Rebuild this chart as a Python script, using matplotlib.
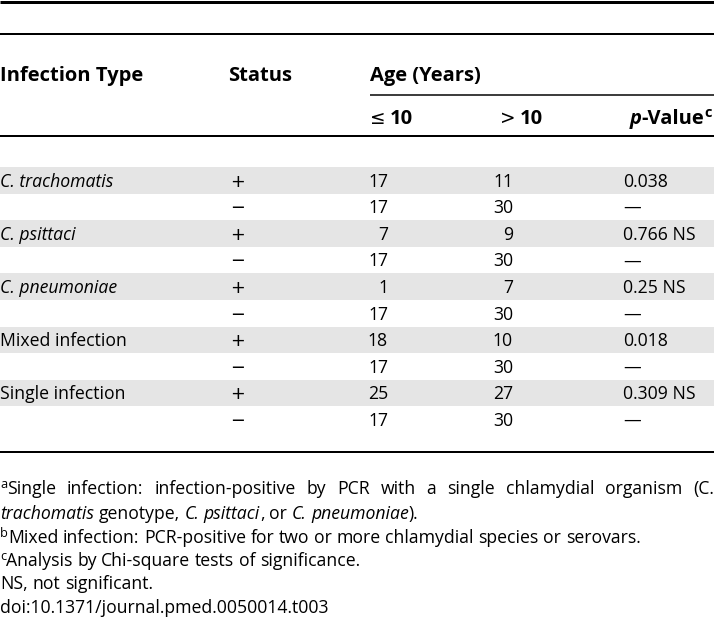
import re
import matplotlib
matplotlib.use("Agg")
import matplotlib.pyplot as plt
from matplotlib import font_manager

# ---------------- data ----------------
infection_types = ["C. trachomatis", "C. psittaci", "C. pneumoniae",
                   "Mixed infection", "Single infection"]
italic_type = [True, True, True, False, False]
pos_le10 = [17, 7, 1, 18, 25]
pos_gt10 = [11, 9, 7, 10, 27]
neg_le10 = [17, 17, 17, 17, 17]
neg_gt10 = [30, 30, 30, 30, 30]
p_values = ["0.038", "0.766 NS", "0.25 NS", "0.018", "0.309 NS"]
neg_p = "\u2014"
status_labels = ["+", "\u2212"]

header1 = ["Infection Type", "Status", "Age (Years)"]

footnotes = [
    [("a", "sup"), ("Single infection: infection-positive by PCR with a single chlamydial organism (C.", "n")],
    [("trachomatis", "i"), (" genotype, ", "n"), ("C. psittaci", "i"), (", or ", "n"),
     ("C. pneumoniae", "i"), (").", "n")],
    [("b", "sup"), ("Mixed infection: PCR-positive for two or more chlamydial species or serovars.", "n")],
    [("c", "sup"), ("Analysis by Chi-square tests of significance.", "n")],
    [("NS, not significant.", "n")],
    [("doi:10.1371/journal.pmed.0050014.t003", "n")],
]

# ---------------- font ----------------
names = {f.name for f in font_manager.fontManager.ttflist}
FAM = "DejaVu Sans"
for cand in ["Open Sans", "Noto Sans", "Lato", "DejaVu Sans"]:
    if cand in names:
        FAM = cand
        break
FAMS = [FAM, "DejaVu Sans"]
MATH = ["DejaVu Sans"]

W, H = 714, 624
fig = plt.figure(figsize=(W / 100, H / 100), dpi=100)
ax = fig.add_axes([0, 0, 1, 1])
ax.set_xlim(0, W)
ax.set_ylim(H, 0)
ax.axis("off")
renderer = fig.canvas.get_renderer()


def width(t):
    return t.get_window_extent(renderer).width


# calibrate font size so a long body line matches the reference width
_t = ax.text(0, 0, footnotes[2][1][0], family=FAMS, fontsize=10)
FS = 10 * 632.0 / width(_t)
_t.remove()
FS_PX = FS * 100 / 72.0
BASE = 0.36 * FS_PX  # baseline below visual centre
HFS = FS * 1.14       # header size


def put(x, yc, s, ha="left", weight="normal", style="normal", size=None, dy=0, fam=None):
    return ax.text(x, yc + BASE + dy, s, family=fam or FAMS, fontsize=size or FS,
                   ha=ha, va="baseline", fontweight=weight, fontstyle=style,
                   color="black")


STY = {
    "n": dict(weight="normal", style="normal"),
    "i": dict(weight="normal", style="italic"),
    "b": dict(weight="bold", style="normal"),
    "bi": dict(weight="bold", style="italic"),
    "sup": dict(weight="normal", style="normal", sup=True),
    "bsup": dict(weight="bold", style="normal", sup=True),
}


def space_w(st, size):
    kw = {k: v for k, v in STY[st].items() if k != "sup"}
    a = put(0, -100, "n n", size=size, **kw)
    b = put(0, -100, "nn", size=size, **kw)
    w = width(a) - width(b)
    a.remove(); b.remove()
    return w


def draw_runs(x, yc, runs, justify=None, size=None, right=None):
    size = size or FS
    spx = size * 100 / 72.0
    tokens = []
    for s, st in runs:
        for p in re.split(r"( +)", s):
            if p:
                tokens.append((p, st))
    arts = []
    total = 0.0
    nspace = 0
    for p, st in tokens:
        if p.strip() == "":
            w = len(p) * space_w(st, size)
            arts.append(("space", w))
            nspace += 1
            continue
        d = dict(STY[st])
        sup = d.pop("sup", False)
        if sup:
            t = put(0, yc, p, size=size * 0.72, dy=-spx * 0.36, **d)
        else:
            t = put(0, yc, p, size=size, **d)
        w = width(t)
        arts.append((t, w))
        total += w
    gap = None
    if justify is not None and nspace:
        gap = (justify - x - total) / nspace
    if right is not None:
        x = right - sum(w for _, w in arts)
    cx = x
    for a, w in arts:
        if a == "space":
            cx += gap if gap is not None else w
        else:
            a.set_x(cx)
            cx += w


# ---------------- rules ----------------
def hline(y, x0, x1, px):
    ax.plot([x0, x1], [y, y], color="black", lw=px * 72 / 100, solid_capstyle="butt")


hline(1.5, 0, W, 3)
hline(33.5, 0, W, 2)
hline(95, 370, W, 1.5)
hline(136, 0, W, 2)
hline(452, 0, W, 2)

# ---------------- header ----------------
col_x = [0, 228, 370]
for x, s in zip(col_x, header1):
    put(x, 75, s, weight="bold", size=HFS)

put(370, 118, "\u2264", fam=MATH, size=FS * 1.05)
put(390, 118, "10", weight="bold", size=HFS)
put(500, 118, ">", fam=MATH, size=FS * 1.05)
put(520, 118, "10", weight="bold", size=HFS)
draw_runs(0, 118, [("p", "bi"), ("-Value", "b"), ("c", "bsup")], size=HFS, right=712)

# ---------------- body ----------------
ROW0, RH = 167.0, 26.6
shade = "#e5e5e5"
for i in range(len(infection_types)):
    for j in range(2):
        r = 2 * i + j
        top = ROW0 + r * RH
        yc = top + RH / 2
        if j == 0:
            ax.add_patch(plt.Rectangle((0, top), W, RH, color=shade, lw=0, zorder=0))
            put(0, yc, infection_types[i], style="italic" if italic_type[i] else "normal")
            put(388, yc, str(pos_le10[i]), ha="right")
            put(513, yc, str(pos_gt10[i]), ha="right")
            put(623, yc, p_values[i])
        else:
            put(388, yc, str(neg_le10[i]), ha="right")
            put(513, yc, str(neg_gt10[i]), ha="right")
            put(623, yc, neg_p)
        put(237, yc, status_labels[j], ha="center", fam=MATH)

# ---------------- footnotes ----------------
foot_y = [488, 513, 537, 560, 583, 607]
for k, (runs, y) in enumerate(zip(footnotes, foot_y)):
    draw_runs(0, y, runs, justify=W if k == 0 else None)

fig.savefig("out.png", dpi=100)
